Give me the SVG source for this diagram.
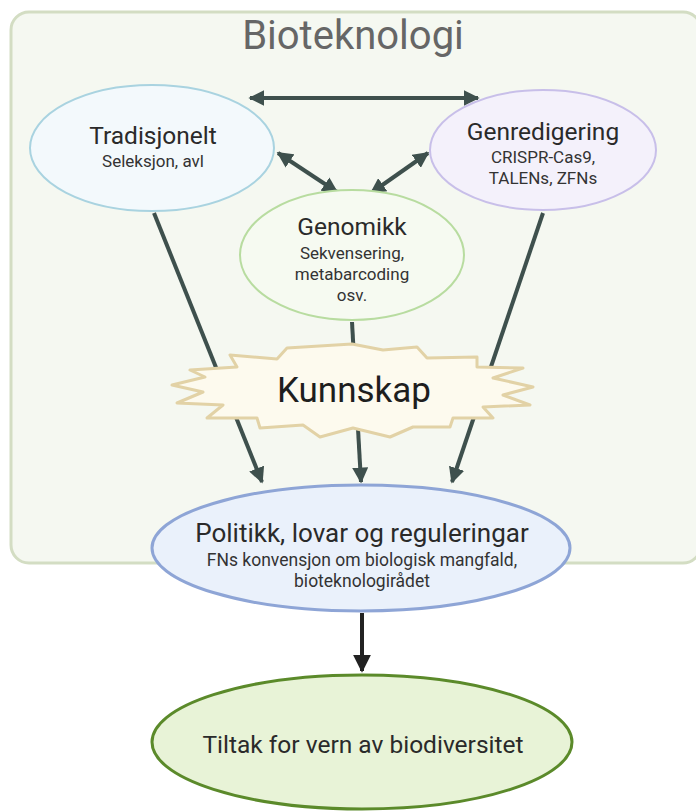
<svg xmlns="http://www.w3.org/2000/svg" width="696" height="812" viewBox="0 0 696 812">
  <style>
    text { font-family: Roboto, "Liberation Sans", sans-serif; text-anchor: middle; fill: #2a2a2a; }
    .title { font-size: 24.5px; }
    .sub { font-size: 17px; fill: #333; }
    .conn { stroke: #3e504d; stroke-width: 4; fill: none; }
  </style>
  <defs>
    <marker id="ah" viewBox="0 0 10 10" refX="9" refY="5" markerWidth="4" markerHeight="4" orient="auto-start-reverse" markerUnits="strokeWidth">
      <path d="M0,0 L10,5 L0,10 Z" fill="#3e504d"/>
    </marker>
    <marker id="ahBlack" viewBox="0 0 10 10" refX="9" refY="5" markerWidth="4.5" markerHeight="4.5" orient="auto" markerUnits="strokeWidth">
      <path d="M0,0 L10,5 L0,10 Z" fill="#222"/>
    </marker>
  </defs>

  <!-- Biotechnology panel -->
  <g id="panel">
    <rect x="11" y="12" width="690" height="551" rx="18" fill="#f5f8f1" stroke="#d3ddc3" stroke-width="3"/>
    <text x="353" y="49" style="font-size:40px; fill:#666;">Bioteknologi</text>
  </g>

  <!-- Connectors -->
  <g id="connectors">
    <line class="conn" x1="250" y1="98" x2="478" y2="98" marker-start="url(#ah)" marker-end="url(#ah)"/>
    <line class="conn" x1="278" y1="153" x2="337" y2="192" marker-start="url(#ah)" marker-end="url(#ah)"/>
    <line class="conn" x1="428" y1="153" x2="371" y2="193" marker-start="url(#ah)" marker-end="url(#ah)"/>
    <line class="conn" x1="154" y1="213" x2="262" y2="482" marker-end="url(#ah)"/>
    <line class="conn" x1="352" y1="322" x2="361" y2="482" marker-end="url(#ah)"/>
    <line class="conn" x1="543" y1="213" x2="452" y2="482" marker-end="url(#ah)"/>
    <line x1="362" y1="613" x2="362" y2="671" stroke="#222" stroke-width="4" marker-end="url(#ahBlack)"/>
  </g>

  <g id="tradisjonelt">
    <ellipse cx="152" cy="148" rx="122" ry="63" fill="#f3f9fc" stroke="#a9d3e0" stroke-width="2"/>
    <text class="title" x="153" y="144">Tradisjonelt</text>
    <text class="sub" x="153" y="167">Seleksjon, avl</text>
  </g>

  <g id="genredigering">
    <ellipse cx="543" cy="150" rx="113" ry="60" fill="#f4f1fb" stroke="#c8bfe9" stroke-width="2"/>
    <text class="title" x="543" y="140">Genredigering</text>
    <text class="sub" x="543" y="163">CRISPR-Cas9,</text>
    <text class="sub" x="543" y="184">TALENs, ZFNs</text>
  </g>

  <g id="genomikk">
    <ellipse cx="352" cy="255" rx="112" ry="65" fill="#f6faf1" stroke="#b8dca0" stroke-width="2"/>
    <text class="title" x="352" y="235">Genomikk</text>
    <text class="sub" x="352" y="259">Sekvensering,</text>
    <text class="sub" x="352" y="280">metabarcoding</text>
    <text class="sub" x="352" y="301">osv.</text>
  </g>

  <g id="kunnskap">
    <polygon points="352,344 383,350 417,347 427,358 477,357 477,367 523,368 493,378 533,387 503,395 530,405 483,407 493,418 453,418 450,427 413,427 390,437 353,428 320,437 303,425 260,428 257,418 207,418 223,405 177,403 203,392 172,385 205,377 190,370 237,367 230,355 277,359 287,348" fill="#fdfaee" stroke="#e2d2a6" stroke-width="3" stroke-linejoin="round"/>
    <text x="354" y="402" style="font-size:35px; fill:#1e1e1e;">Kunnskap</text>
  </g>

  <g id="politikk">
    <ellipse cx="361" cy="548" rx="209" ry="63" fill="#eaf1fb" stroke="#8ea5d6" stroke-width="3"/>
    <text x="362" y="542" style="font-size:26px;">Politikk, lovar og reguleringar</text>
    <text class="sub" x="362" y="566" style="font-size:17.5px;">FNs konvensjon om biologisk mangfald,</text>
    <text class="sub" x="362" y="587" style="font-size:17.5px;">bioteknologirådet</text>
  </g>

  <g id="tiltak">
    <ellipse cx="362" cy="742" rx="210" ry="67" fill="#e8f3d7" stroke="#5b8a2a" stroke-width="3"/>
    <text x="363" y="753" style="font-size:24.5px;">Tiltak for vern av biodiversitet</text>
  </g>
</svg>
